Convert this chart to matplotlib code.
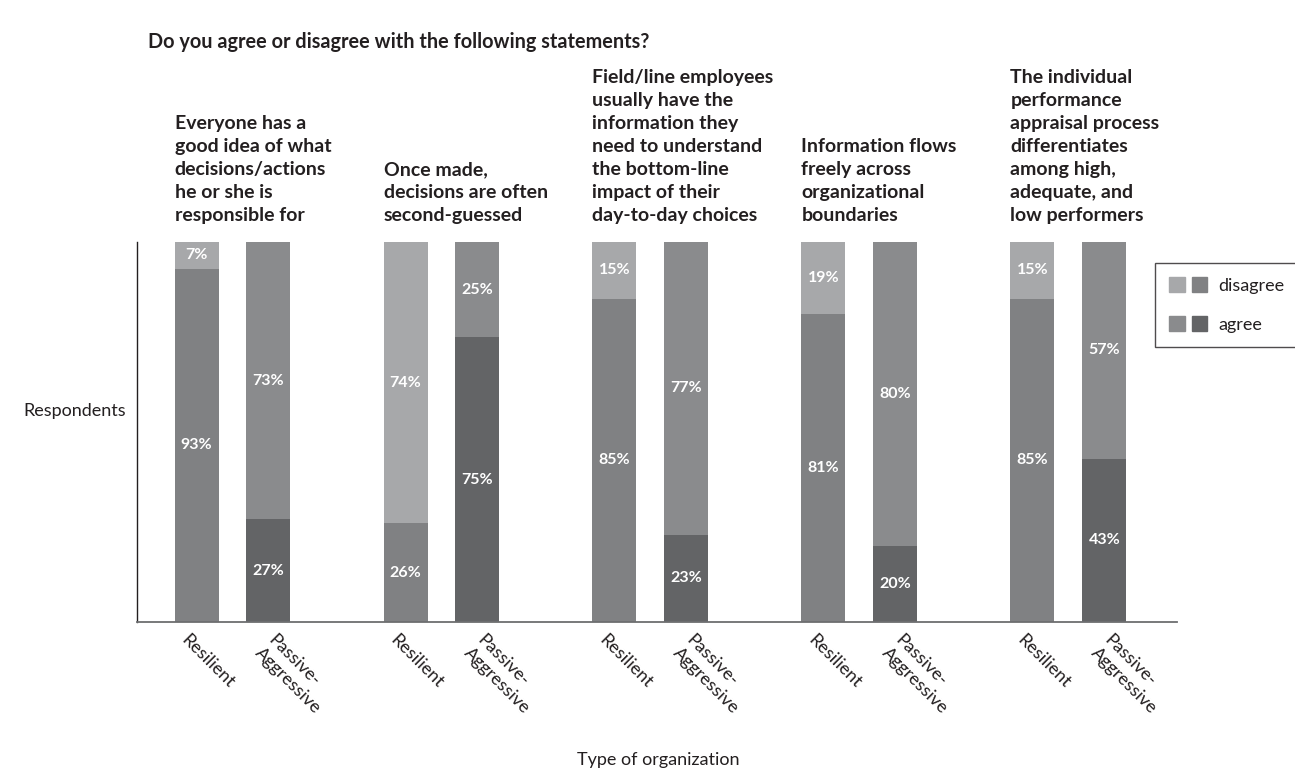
import matplotlib
matplotlib.use('Agg')
import matplotlib.pyplot as plt
import numpy as np
from matplotlib.patches import Patch
from matplotlib.legend_handler import HandlerTuple

# ---- data ----
main_title = "Do you agree or disagree with the following statements?"
statements = [
    "Everyone has a\ngood idea of what\ndecisions/actions\nhe or she is\nresponsible for",
    "Once made,\ndecisions are often\nsecond-guessed",
    "Field/line employees\nusually have the\ninformation they\nneed to understand\nthe bottom-line\nimpact of their\nday-to-day choices",
    "Information flows\nfreely across\norganizational\nboundaries",
    "The individual\nperformance\nappraisal process\ndifferentiates\namong high,\nadequate, and\nlow performers",
]
org_types = ["Resilient", "Passive-\nAggressive"]
resilient_agree = [93, 26, 85, 81, 85]
resilient_disagree = [7, 74, 15, 19, 15]
passive_agree = [27, 75, 23, 20, 43]
passive_disagree = [73, 25, 77, 80, 57]
legend_labels = ["disagree", "agree"]
y_label = "Respondents"
x_label = "Type of organization"

# ---- style ----
C_RD = "#a7a8aa"
C_RA = "#808183"
C_PD = "#8a8b8d"
C_PA = "#636466"
TXT = "#231f20"
FONT = ["Lato", "DejaVu Sans"]
plt.rcParams['font.family'] = FONT

fig = plt.figure(figsize=(12.95, 7.7), dpi=100)
ax = fig.add_axes([137/1295, 1-622/770, (1177-137)/1295, 380/770])

x = np.arange(len(statements))
off = 0.172
w = 0.2105

ax.bar(x - off, resilient_agree, w, color=C_RA, zorder=2)
ax.bar(x - off, resilient_disagree, w, bottom=resilient_agree, color=C_RD, zorder=2)
ax.bar(x + off, passive_agree, w, color=C_PA, zorder=2)
ax.bar(x + off, passive_disagree, w, bottom=passive_agree, color=C_PD, zorder=2)

def lab(xp, bottom, val):
    ax.text(xp, bottom + val / 2, f"{val}%", color="white", ha="center", va="center",
            fontsize=11.5, fontweight="bold", zorder=3)

for i in range(len(statements)):
    lab(x[i] - off, 0, resilient_agree[i])
    lab(x[i] - off, resilient_agree[i], resilient_disagree[i])
    lab(x[i] + off, 0, passive_agree[i])
    lab(x[i] + off, passive_agree[i], passive_disagree[i])
    ax.text(x[i] - off - w / 2, 104.7, statements[i], ha="left", va="bottom",
            fontsize=14, fontweight="bold", color=TXT, linespacing=1.43)
    ax.text(x[i] - off - 0.035, -2.5, org_types[0], rotation=-45, rotation_mode="anchor",
            ha="left", va="top", fontsize=13, color=TXT)
    ax.text(x[i] + off + 0.04, -2.5, org_types[1], rotation=-45, rotation_mode="anchor",
            ha="left", va="top", fontsize=13, color=TXT, linespacing=1.25)

ax.set_xlim(-0.457, 4.52)
ax.set_ylim(0, 100)
ax.set_xticks([])
ax.set_yticks([20, 40, 60, 80])
ax.tick_params(axis="y", direction="inout", length=3, width=1.2, color="white",
               labelleft=False)
for s in ["top", "right"]:
    ax.spines[s].set_visible(False)
ax.spines["left"].set_color("#231f20")
ax.spines["left"].set_linewidth(1.0)
ax.spines["bottom"].set_color("#6d6e70")
ax.spines["bottom"].set_linewidth(1.3)

fig.text(148/1295, 1-42/770, main_title, ha="left", va="center", fontsize=14.3,
         fontweight="bold", color=TXT)
fig.text(75/1295, 1-411/770, y_label, ha="center", va="center", fontsize=13,
         color=TXT)
fig.text(658/1295, 1-760/770, x_label, ha="center", va="center", fontsize=13,
         color=TXT)

handles = [(Patch(color=C_RD), Patch(color=C_RA)), (Patch(color=C_PD), Patch(color=C_PA))]
leg = fig.legend(handles, legend_labels,
                 handler_map={tuple: HandlerTuple(ndivide=None, pad=0.35)},
                 loc="upper left", bbox_to_anchor=(1155/1295, 1-263/770),
                 borderaxespad=0.0,
                 frameon=True, fancybox=False, edgecolor="#231f20",
                 handlelength=2.1, handleheight=0.9, handletextpad=0.6,
                 labelspacing=1.2, borderpad=0.8, prop={"size": 13})
leg.get_frame().set_linewidth(1.0)
for t in leg.get_texts():
    t.set_color(TXT)

fig.savefig("out.png", dpi=100)
